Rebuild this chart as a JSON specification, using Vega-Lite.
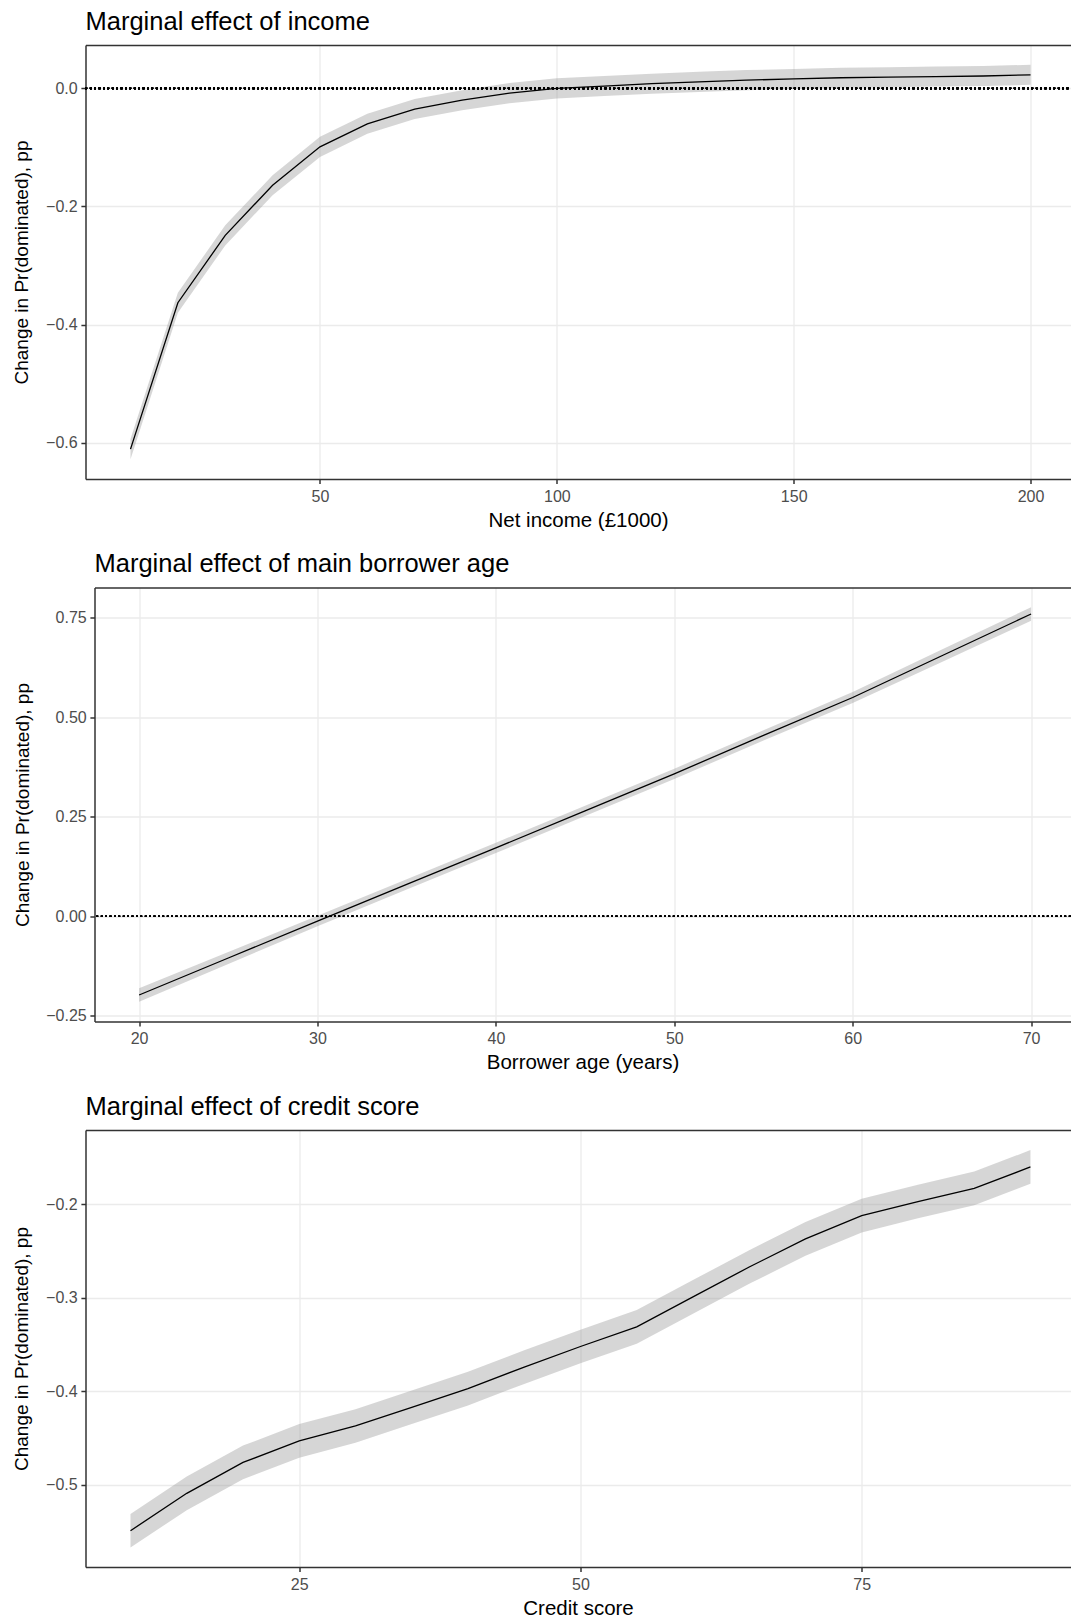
{
  "$schema": "https://vega.github.io/schema/vega-lite/v6.json",
  "padding": {"left": 12.5, "top": 9, "right": 0, "bottom": 0},
  "background": "white",
  "datasets": {
    "income": [
      {"x": 10, "est": -0.611, "lo": -0.628, "hi": -0.594},
      {"x": 20, "est": -0.363, "lo": -0.380, "hi": -0.346},
      {"x": 30, "est": -0.249, "lo": -0.266, "hi": -0.232},
      {"x": 40, "est": -0.164, "lo": -0.181, "hi": -0.147},
      {"x": 50, "est": -0.099, "lo": -0.116, "hi": -0.082},
      {"x": 60, "est": -0.060, "lo": -0.077, "hi": -0.043},
      {"x": 70, "est": -0.035, "lo": -0.052, "hi": -0.018},
      {"x": 80, "est": -0.020, "lo": -0.037, "hi": -0.003},
      {"x": 90, "est": -0.008, "lo": -0.025, "hi": 0.009},
      {"x": 100, "est": 0.000, "lo": -0.017, "hi": 0.017},
      {"x": 110, "est": 0.004, "lo": -0.013, "hi": 0.021},
      {"x": 120, "est": 0.008, "lo": -0.009, "hi": 0.025},
      {"x": 130, "est": 0.011, "lo": -0.006, "hi": 0.028},
      {"x": 140, "est": 0.014, "lo": -0.003, "hi": 0.031},
      {"x": 150, "est": 0.016, "lo": -0.001, "hi": 0.033},
      {"x": 160, "est": 0.018, "lo": 0.001, "hi": 0.035},
      {"x": 170, "est": 0.019, "lo": 0.002, "hi": 0.036},
      {"x": 180, "est": 0.020, "lo": 0.003, "hi": 0.037},
      {"x": 190, "est": 0.021, "lo": 0.004, "hi": 0.038},
      {"x": 200, "est": 0.023, "lo": 0.006, "hi": 0.040}
    ],
    "age": [
      {"x": 20, "est": -0.198, "lo": -0.215, "hi": -0.181},
      {"x": 25, "est": -0.105, "lo": -0.120, "hi": -0.090},
      {"x": 30, "est": -0.012, "lo": -0.025, "hi": 0.001},
      {"x": 35, "est": 0.080, "lo": 0.067, "hi": 0.093},
      {"x": 40, "est": 0.172, "lo": 0.159, "hi": 0.185},
      {"x": 45, "est": 0.265, "lo": 0.252, "hi": 0.278},
      {"x": 50, "est": 0.358, "lo": 0.345, "hi": 0.371},
      {"x": 55, "est": 0.455, "lo": 0.442, "hi": 0.468},
      {"x": 60, "est": 0.550, "lo": 0.536, "hi": 0.564},
      {"x": 65, "est": 0.655, "lo": 0.639, "hi": 0.671},
      {"x": 70, "est": 0.760, "lo": 0.743, "hi": 0.777}
    ],
    "credit": [
      {"x": 10, "est": -0.549, "lo": -0.567, "hi": -0.531},
      {"x": 15, "est": -0.509, "lo": -0.527, "hi": -0.491},
      {"x": 20, "est": -0.476, "lo": -0.494, "hi": -0.458},
      {"x": 25, "est": -0.453, "lo": -0.471, "hi": -0.435},
      {"x": 30, "est": -0.437, "lo": -0.455, "hi": -0.419},
      {"x": 35, "est": -0.417, "lo": -0.435, "hi": -0.399},
      {"x": 40, "est": -0.397, "lo": -0.415, "hi": -0.379},
      {"x": 45, "est": -0.374, "lo": -0.392, "hi": -0.356},
      {"x": 50, "est": -0.352, "lo": -0.370, "hi": -0.334},
      {"x": 55, "est": -0.331, "lo": -0.349, "hi": -0.313},
      {"x": 60, "est": -0.299, "lo": -0.317, "hi": -0.281},
      {"x": 65, "est": -0.267, "lo": -0.285, "hi": -0.249},
      {"x": 70, "est": -0.237, "lo": -0.255, "hi": -0.219},
      {"x": 75, "est": -0.212, "lo": -0.230, "hi": -0.194},
      {"x": 80, "est": -0.197, "lo": -0.215, "hi": -0.179},
      {"x": 85, "est": -0.183, "lo": -0.201, "hi": -0.165},
      {"x": 90, "est": -0.160, "lo": -0.178, "hi": -0.142}
    ]
  },
  "vconcat": [
    {
      "title": {"text": "Marginal effect of income", "dx": -9},
      "width": 976,
      "height": 434,
      "data": {"name": "income"},
      "resolve": {"axis": {"x": "independent"}},
      "layer": [
        {
          "mark": {"type": "area", "color": "#999999", "opacity": 0.4},
          "encoding": {
            "x": {"field": "x", "type": "quantitative", "scale": {"domain": [0.5, 208.44], "range": [-9, 976], "nice": false, "zero": false}, "axis": {"values": [50, 100, 150, 200], "title": "Net income (£1000)"}},
            "y": {"field": "lo", "type": "quantitative", "scale": {"domain": [-0.6616, 0.0735], "nice": false, "zero": false}, "axis": {"values": [-0.6, -0.4, -0.2, 0.0], "format": ".1f", "offset": 9, "title": "Change in Pr(dominated), pp"}},
            "y2": {"field": "hi"}
          }
        },
        {
          "mark": {"type": "line", "color": "black", "strokeWidth": 1.3},
          "encoding": {
            "x": {"field": "x", "type": "quantitative", "axis": {"orient": "top", "labels": false, "ticks": false, "grid": false, "title": null, "domain": true}},
            "y": {"field": "est", "type": "quantitative"}
          }
        },
        {
          "mark": {"type": "rule", "color": "black", "strokeWidth": 1.6, "strokeDash": [1.6, 2.8]},
          "encoding": {"y": {"datum": 0}, "x": {"datum": 0.5, "type": "quantitative", "axis": null}, "x2": {"datum": 208.44}}
        }
      ]
    },
    {
      "title": "Marginal effect of main borrower age",
      "width": 976,
      "height": 434,
      "data": {"name": "age"},
      "resolve": {"axis": {"x": "independent"}},
      "layer": [
        {
          "mark": {"type": "area", "color": "#999999", "opacity": 0.4},
          "encoding": {
            "x": {"field": "x", "type": "quantitative", "scale": {"domain": [17.5, 72.21], "nice": false, "zero": false}, "axis": {"values": [20, 30, 40, 50, 60, 70], "title": "Borrower age (years)"}},
            "y": {"field": "lo", "type": "quantitative", "scale": {"domain": [-0.2646, 0.8266], "nice": false, "zero": false}, "axis": {"values": [-0.25, 0, 0.25, 0.5, 0.75], "format": ".2f", "title": "Change in Pr(dominated), pp"}},
            "y2": {"field": "hi"}
          }
        },
        {
          "mark": {"type": "line", "color": "black", "strokeWidth": 1.3},
          "encoding": {
            "x": {"field": "x", "type": "quantitative", "axis": {"orient": "top", "labels": false, "ticks": false, "grid": false, "title": null, "domain": true}},
            "y": {"field": "est", "type": "quantitative"}
          }
        },
        {
          "mark": {"type": "rule", "color": "black", "strokeWidth": 1.6, "strokeDash": [1.6, 2.8]},
          "encoding": {"y": {"datum": 0}}
        }
      ]
    },
    {
      "title": {"text": "Marginal effect of credit score", "dx": -9},
      "width": 976,
      "height": 437,
      "data": {"name": "credit"},
      "resolve": {"axis": {"x": "independent"}},
      "layer": [
        {
          "mark": {"type": "area", "color": "#999999", "opacity": 0.4},
          "encoding": {
            "x": {"field": "x", "type": "quantitative", "scale": {"domain": [6, 93.56], "range": [-9, 976], "nice": false, "zero": false}, "axis": {"values": [25, 50, 75], "title": "Credit score"}},
            "y": {"field": "lo", "type": "quantitative", "scale": {"domain": [-0.5878, -0.1205], "nice": false, "zero": false}, "axis": {"values": [-0.5, -0.4, -0.3, -0.2], "format": ".1f", "offset": 9, "title": "Change in Pr(dominated), pp"}},
            "y2": {"field": "hi"}
          }
        },
        {
          "mark": {"type": "line", "color": "black", "strokeWidth": 1.3},
          "encoding": {
            "x": {"field": "x", "type": "quantitative", "axis": {"orient": "top", "labels": false, "ticks": false, "grid": false, "title": null, "domain": true}},
            "y": {"field": "est", "type": "quantitative"}
          }
        }
      ]
    }
  ],
  "config": {
    "font": "Liberation Sans",
    "view": {"stroke": null},
    "concat": {"spacing": 20.5},
    "title": {"fontSize": 25.5, "fontWeight": "normal", "color": "black", "anchor": "start", "frame": "group", "offset": 10},
    "axis": {
      "labelFont": "Liberation Sans",
      "labelFontSize": 16,
      "labelColor": "#4D4D4D",
      "labelFlush": false,
      "labelOverlap": false,
      "titleFont": "Liberation Sans",
      "titleFontWeight": "normal",
      "titleColor": "black",
      "tickColor": "#333333",
      "tickSize": 4.6,
      "tickWidth": 1.5,
      "domainColor": "#333333",
      "domainWidth": 1.5,
      "gridColor": "#EBEBEB",
      "gridWidth": 1.3
    },
    "axisX": {"labelPadding": 4.7, "titlePadding": 6, "titleFontSize": 20.5},
    "axisY": {"labelPadding": 3.7, "titlePadding": 13.7, "titleFontSize": 19}
  }
}
